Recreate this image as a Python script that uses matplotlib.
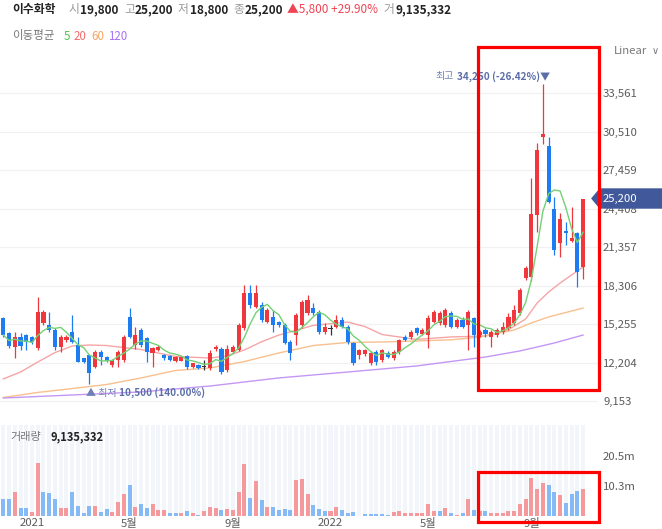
import matplotlib
matplotlib.use('Agg')
import matplotlib.pyplot as plt
import numpy as np
import pandas as pd
from matplotlib.patches import Rectangle, Polygon

plt.rcParams['font.family'] = ['Noto Sans CJK KR', 'DejaVu Sans']

# weekly candles starting at the week of 2020-11-30
opens = [15730, 14560, 13400, 14250, 14380, 14250, 13330, 15310, 15180, 14780,
         13450, 13990, 14650, 13590, 12530, 12800, 11870, 13060, 12620, 12000,
         12400, 12400, 15830, 13600, 14780, 14120, 12930, 13200, 12800, 12720,
         12350, 12350, 12720, 11870, 12000, 11850, 11740, 13250, 13250, 11610,
         13060, 13200, 14910, 17690, 16630, 16760, 15440, 15830, 15440, 15180,
         13850, 14380, 15180, 16100, 16500, 16230, 14650, 14850, 15050, 15570,
         15050, 13720, 12800, 12850, 12140, 13060, 12400, 12930, 12530, 13060,
         14250, 14250, 14910, 14500, 14380, 15440, 15310, 15180, 16100, 15050,
         15570, 15180, 15700, 14400, 14780, 14250, 14380, 14650, 14910, 15310,
         16100, 18880, 19000, 23900, 30100, 29400, 24350, 21700, 22600, 21850,
         22490, 19800]
highs = [15810, 14650, 14650, 14520, 14450, 14300, 17420, 16360, 16230, 14910,
         14380, 14380, 15970, 14250, 12600, 12800, 13200, 13200, 12700, 12450,
         13200, 14380, 16500, 15000, 14910, 14250, 13450, 13600, 12900, 12800,
         12700, 12750, 12800, 12200, 12050, 12400, 13200, 13600, 13450, 13590,
         13600, 15300, 18350, 18350, 18350, 17000, 16500, 16360, 15500, 15300,
         14000, 16100, 17150, 17550, 16900, 16360, 15300, 15200, 16000, 15830,
         15180, 13850, 13300, 13300, 13100, 13200, 13300, 13100, 13200, 14100,
         14400, 14800, 15050, 14900, 16000, 16360, 16300, 16500, 16300, 15700,
         15800, 16360, 15800, 14800, 14910, 14780, 14900, 15450, 16130, 16760,
         18100, 19850, 26800, 29570, 34250, 30100, 25350, 24080, 23370, 24550,
         22570, 25200]
lows = [14230, 13330, 12540, 13200, 13200, 13700, 13200, 15180, 14650, 13200,
        13060, 13850, 13720, 12270, 12150, 10500, 11740, 12000, 12250, 11850,
        11870, 12270, 14120, 13300, 13450, 12270, 11870, 13100, 12400, 12300,
        12250, 12300, 11700, 11800, 11650, 11610, 11600, 13100, 11300, 11480,
        12950, 13100, 14800, 16500, 16500, 15400, 15300, 14650, 15050, 13650,
        12400, 13590, 14900, 16000, 15950, 14500, 14500, 14380, 14900, 14900,
        13700, 12000, 12500, 12700, 12000, 12000, 12270, 12550, 12400, 12900,
        13900, 14100, 14400, 14400, 13350, 15300, 15180, 15050, 14900, 14900,
        14900, 13200, 13450, 14250, 14250, 13450, 14250, 14500, 14780, 15180,
        15970, 18740, 18700, 22570, 29500, 24810, 20720, 20590, 21520, 21780,
        18210, 18800]
closes = [14380, 13510, 14250, 13510, 13850, 13850, 16230, 16230, 14780, 13450,
          14250, 14250, 13850, 12270, 12270, 11350, 13060, 12670, 12350, 12400,
          13060, 14250, 14250, 14380, 13590, 13060, 13330, 13450, 12530, 12400,
          12620, 12620, 11870, 12140, 11740, 11850, 12980, 13450, 11480, 13250,
          13410, 15180, 17690, 16760, 17690, 15570, 16360, 15180, 15180, 13720,
          12930, 15970, 17020, 17150, 16100, 14650, 15050, 14850, 15570, 15050,
          13850, 12140, 13200, 13200, 12980, 12270, 13200, 12670, 13060, 13990,
          13990, 14650, 14520, 14780, 15700, 16230, 16100, 16360, 15050, 15570,
          15050, 16230, 14380, 14650, 14460, 14650, 14780, 15050, 15830, 16360,
          17950, 19670, 23970, 29050, 30300, 24950, 21120, 23550, 22450, 22050,
          19400, 25200]

# volume in millions of shares, colour flag r/b as drawn
volumes = [5.7, 5.7, 8.0, 2.6, 2.6, 1.5, 17.9, 8.3, 7.7, 5.7,
           2.6, 2.6, 8.3, 3.3, 0.9, 3.5, 3.5, 1.5, 2.3, 1.2,
           4.6, 7.4, 10.4, 3.2, 4.0, 2.6, 4.0, 1.9, 1.9, 0.9,
           0.9, 0.9, 1.6, 0.9, 0.5, 1.6, 3.2, 2.8, 1.9, 2.3,
           1.9, 8.3, 17.6, 6.2, 12.0, 5.5, 3.2, 3.2, 2.0, 2.5,
           2.1, 12.3, 12.7, 7.4, 3.9, 2.5, 1.6, 1.6, 3.2, 2.1,
           1.1, 1.5, 0.1, 0.7, 0.7, 0.7, 0.7, 0.5, 1.2, 1.6,
           1.1, 1.1, 1.1, 1.1, 4.0, 1.6, 1.8, 2.8, 1.1, 0.5,
           0.9, 5.7, 2.1, 1.8, 1.6, 1.1, 0.9, 0.9, 1.8, 1.7,
           4.0, 5.9, 13.0, 9.3, 11.1, 10.4, 8.3, 7.0, 4.3, 7.4,
           8.6, 9.135332]
volume_dir = ("bbrbbrrbbb" "rrbbbbrbbr" "rrbrbbrrrb" "brbrbrrrbr" "rrrbrbrbbb"
              "brrrbbbrrb" "bbrbbbbbrr" "rrrrrrbrbr" "brbrbrrrrr" "rrrrrbbrbb"
              "br")

# moving averages (week index, price)
ma20_idx = [0, 3, 6, 9, 12, 15, 18, 24, 30, 36, 39, 42, 45, 48, 54, 60, 63, 66,
            72, 78, 84, 88, 91, 93, 95, 97, 99, 101]
ma20_val = [10900, 11450, 12240, 12990, 13510, 13590, 13550, 13230, 12680, 12560,
            12720, 13200, 13850, 14380, 15140, 15410, 15050, 14420, 14030, 14230,
            14300, 14800, 15650, 16920, 17790, 18500, 19140, 19770]
ma60_idx = [0, 6, 12, 18, 24, 30, 36, 42, 48, 54, 60, 66, 72, 78, 83, 89, 92, 95, 101]
ma60_val = [9430, 9830, 10140, 10460, 10980, 11570, 11770, 12280, 12960, 13550,
            13790, 13830, 13910, 14000, 14220, 14780, 15340, 15810, 16520]
ma120_idx = [0, 12, 24, 36, 48, 60, 72, 84, 90, 96, 101]
ma120_val = [9390, 9630, 9870, 10340, 10980, 11450, 11930, 12640, 13120, 13750, 14380]

price_ticks = [9153, 12204, 15255, 18306, 21357, 24408, 27459, 30510, 33561]
vol_ticks = [10.25, 20.5]
vol_tick_labels = ['10.3m', '20.5m']

UP, DOWN, DOJI = '#f0373d', '#1d7cf2', '#333333'
VUP, VDOWN = '#f59a9c', '#85baf6'

W, H = 662, 529


def fx(px):
    return px / W


def fy(py):
    return 1 - py / H


def main():
    n = len(closes)
    idx = np.arange(n)
    dates = pd.date_range('2020-11-30', periods=n, freq='7D')

    fig = plt.figure(figsize=(W / 100, H / 100), dpi=100)
    fig.set_facecolor('white')

    # price panel
    ax = fig.add_axes([0, fy(412), fx(598), (412 - 60) / H])
    per_px = (price_ticks[1] - price_ticks[0]) / 38.5
    ax.set_xlim(-0.575, 103.6)
    ax.set_ylim(price_ticks[0] - 11 * per_px, price_ticks[0] + 341 * per_px)
    for s in ax.spines.values():
        s.set_visible(False)
    ax.set_xticks([])
    ax.set_yticks(price_ticks)
    ax.set_yticklabels([f'{t:,}' for t in price_ticks])
    ax.yaxis.tick_right()
    ax.tick_params(axis='y', length=0, pad=3.6, labelsize=8.2, labelcolor='#5c5c5c')
    ax.grid(axis='y', color='#f1f1f1', lw=0.9, zorder=0)

    for i in idx:
        o, h, l, c = opens[i], highs[i], lows[i], closes[i]
        col = UP if c > o else (DOWN if c < o else DOJI)
        ax.vlines(i, l, h, color=col, lw=0.9, zorder=3)
        ax.bar(i, max(abs(c - o), 50), bottom=min(o, c), width=0.72, color=col,
               lw=0, zorder=3)

    ma5 = pd.Series(closes).rolling(5, min_periods=1).mean()
    ax.plot(idx, ma5, color='#74d174', lw=1.0, zorder=4)
    ax.plot(ma20_idx, ma20_val, color='#f5a5a5', lw=1.0, zorder=2)
    ax.plot(ma60_idx, ma60_val, color='#f8c08e', lw=1.0, zorder=2)
    ax.plot(ma120_idx, ma120_val, color='#c497f4', lw=1.0, zorder=2)

    last = closes[-1]
    i_hi = int(np.argmax(highs))
    i_lo = int(np.argmin(lows))
    hi, lo = highs[i_hi], lows[i_lo]
    lab = '#7080b4'
    num = '#5c6ea8'
    t_hi = ax.annotate(f'{hi:,} ({(last - hi) / hi * 100:.2f}%)▼', xy=(i_hi, hi),
                       xytext=(7, 8), textcoords='offset pixels', ha='right',
                       va='center', fontsize=7.2, color=num, fontweight='bold')
    t_lo = ax.annotate('▲ 최저', xy=(i_lo, lo), xytext=(-3, -9),
                       textcoords='offset pixels', ha='left', va='center',
                       fontsize=7.2, color=lab)
    fig.canvas.draw()
    bb = t_hi.get_window_extent()
    fig.text(bb.x0 - 3, (bb.y0 + bb.y1) / 2, '최고', transform=None, ha='right',
             va='center', fontsize=7.2, color=lab)
    bb = t_lo.get_window_extent()
    fig.text(bb.x1 + 2, (bb.y0 + bb.y1) / 2,
             f'{lo:,} ({(last - lo) / lo * 100:.2f}%)', transform=None,
             ha='left', va='center', fontsize=7.2, color=num, fontweight='bold')

    # volume panel
    av = fig.add_axes([0, fy(516), fx(598), (516 - 425) / H])
    vtop = 91 * 20.5 / 60.3
    av.set_xlim(-0.575, 103.6)
    av.set_ylim(0, vtop)
    for s in av.spines.values():
        s.set_visible(False)
    av.bar(idx, vtop, width=0.7, color='#f2f5fa', lw=0, zorder=0)
    vcols = [VUP if d == 'r' else VDOWN for d in volume_dir]
    av.bar(idx, volumes, width=0.7, color=vcols, lw=0, zorder=2)
    av.set_yticks(vol_ticks)
    av.set_yticklabels(vol_tick_labels)
    av.yaxis.tick_right()
    av.tick_params(axis='y', length=0, pad=3.6, labelsize=8.2, labelcolor='#5c5c5c')

    tick_pos, tick_lab = [], []
    for i, d in enumerate(dates):
        if d.day <= 7 and d.month in (1, 5, 9):
            tick_pos.append(i)
            tick_lab.append(str(d.year) if d.month == 1 else f'{d.month}월')
    av.set_xticks(tick_pos)
    av.set_xticklabels(tick_lab)
    av.tick_params(axis='x', length=0, pad=1.5, labelsize=8.2, labelcolor='#5c5c5c')

    av.text(0.018, 0.87, '거래량', transform=av.transAxes, fontsize=8,
            color='#777777', va='center', ha='left')
    av.text(0.084, 0.87, f'{int(volumes[-1] * 1e6):,}', transform=av.transAxes,
            fontsize=8, color='#222222', fontweight='bold', va='center', ha='left')

    # header
    pieces = [(12, '이수화학', '#222222', 'bold'), (68, '시', '#9a9a9a', 'normal'),
              (80, f'{opens[-1]:,}', '#222222', 'bold'), (124, '고', '#9a9a9a', 'normal'),
              (135, f'{highs[-1]:,}', '#222222', 'bold'), (178, '저', '#9a9a9a', 'normal'),
              (190, f'{lows[-1]:,}', '#222222', 'bold'), (233, '종', '#9a9a9a', 'normal'),
              (245, f'{closes[-1]:,}', '#222222', 'bold'),
              (287, f'▲{closes[-1] - closes[-2]:,} '
                    f'+{(closes[-1] - closes[-2]) / closes[-2] * 100:.2f}%', '#f04452', 'normal'),
              (383, '거', '#9a9a9a', 'normal'),
              (396, f'{int(volumes[-1] * 1e6):,}', '#222222', 'bold')]
    for x, s, c, w in pieces:
        fig.text(fx(x), fy(10), s, fontsize=8.5, color=c, fontweight=w, va='center', ha='left')

    fig.text(fx(12), fy(36), '이동평균', fontsize=8.3, color='#777777', va='center')
    for x, s, c in [(64, '5', '#4cc54c'), (74, '20', '#f26d6d'), (91, '60', '#f5a460'),
                    (108, '120', '#a772f0')]:
        fig.text(fx(x), fy(36), s, fontsize=8.3, color=c, va='center')

    fig.text(fx(614), fy(51), 'Linear', fontsize=8.2, color='#7a7a7a', va='center')
    fig.text(fx(652), fy(51), '∨', fontsize=7, color='#7a7a7a', va='center',
             family=['DejaVu Sans'])

    # last price tag
    yc = H - ax.transData.transform((0, last))[1]
    tag = Polygon([(fx(592), fy(yc)), (fx(600), fy(yc - 9.5)), (fx(662), fy(yc - 9.5)),
                   (fx(662), fy(yc + 9.5)), (fx(600), fy(yc + 9.5))],
                  closed=True, transform=fig.transFigure, color='#41599a', zorder=5)
    fig.patches.append(tag)
    fig.text(fx(603), fy(yc), f'{last:,}', fontsize=8.2, color='white', va='center',
             ha='left', zorder=6)

    # red highlight boxes
    for x0, y0, x1, y1 in [(477.5, 47, 599, 389.5), (478, 472, 599, 522)]:
        fig.patches.append(Rectangle((fx(x0), fy(y1)), fx(x1) - fx(x0), fy(y0) - fy(y1),
                                     transform=fig.transFigure, fill=False,
                                     ec='#ff0000', lw=2.3, zorder=7))

    fig.savefig('out.png', dpi=100, facecolor='white')


if __name__ == '__main__':
    main()
